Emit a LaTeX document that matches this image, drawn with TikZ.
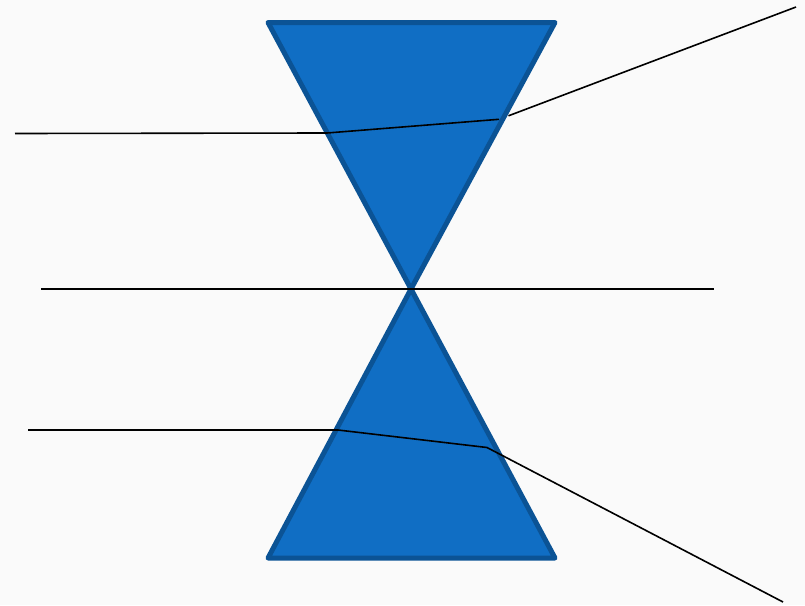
\documentclass[tikz,border=0pt]{standalone}
\definecolor{bg}{HTML}{FAFAFA}
\definecolor{prismfill}{HTML}{106EC4}
\definecolor{prismedge}{HTML}{0B5395}
\tikzset{
  prism/.style={fill=prismfill, draw=prismedge, line width=5pt, line join=round},
  ray/.style={draw=black, line width=1.6pt, line join=round}
}
\begin{document}
\begin{tikzpicture}[x=1pt,y=-1pt]
\fill[bg] (0,0) rectangle (805,605);
\useasboundingbox (0,0) rectangle (805,605);
% prism corners
\coordinate (tl) at (268,22.5);
\coordinate (tr) at (555,22.5);
\coordinate (apex) at (411,289);
\coordinate (bl) at (268,558);
\coordinate (br) at (555,558);
\draw[prism] (tl) -- (tr) -- (apex) -- cycle;
\draw[prism] (apex) -- (bl) -- (br) -- cycle;
% top ray
\coordinate (a0) at (15,133.5);
\coordinate (a1) at (327,133);
\coordinate (a2) at (499,119.3);
\coordinate (a3) at (508.5,115.8);
\coordinate (a4) at (796,7);
\draw[ray] (a0) -- (a1) -- (a2);
\draw[ray] (a3) -- (a4);
% middle ray
\coordinate (m0) at (41,289);
\coordinate (m1) at (714,289);
\draw[ray] (m0) -- (m1);
% bottom ray
\coordinate (b0) at (28,430);
\coordinate (b1) at (338,430);
\coordinate (b2) at (487,447.5);
\coordinate (b3) at (783,602);
\draw[ray] (b0) -- (b1) -- (b2) -- (b3);
\end{tikzpicture}
\end{document}
